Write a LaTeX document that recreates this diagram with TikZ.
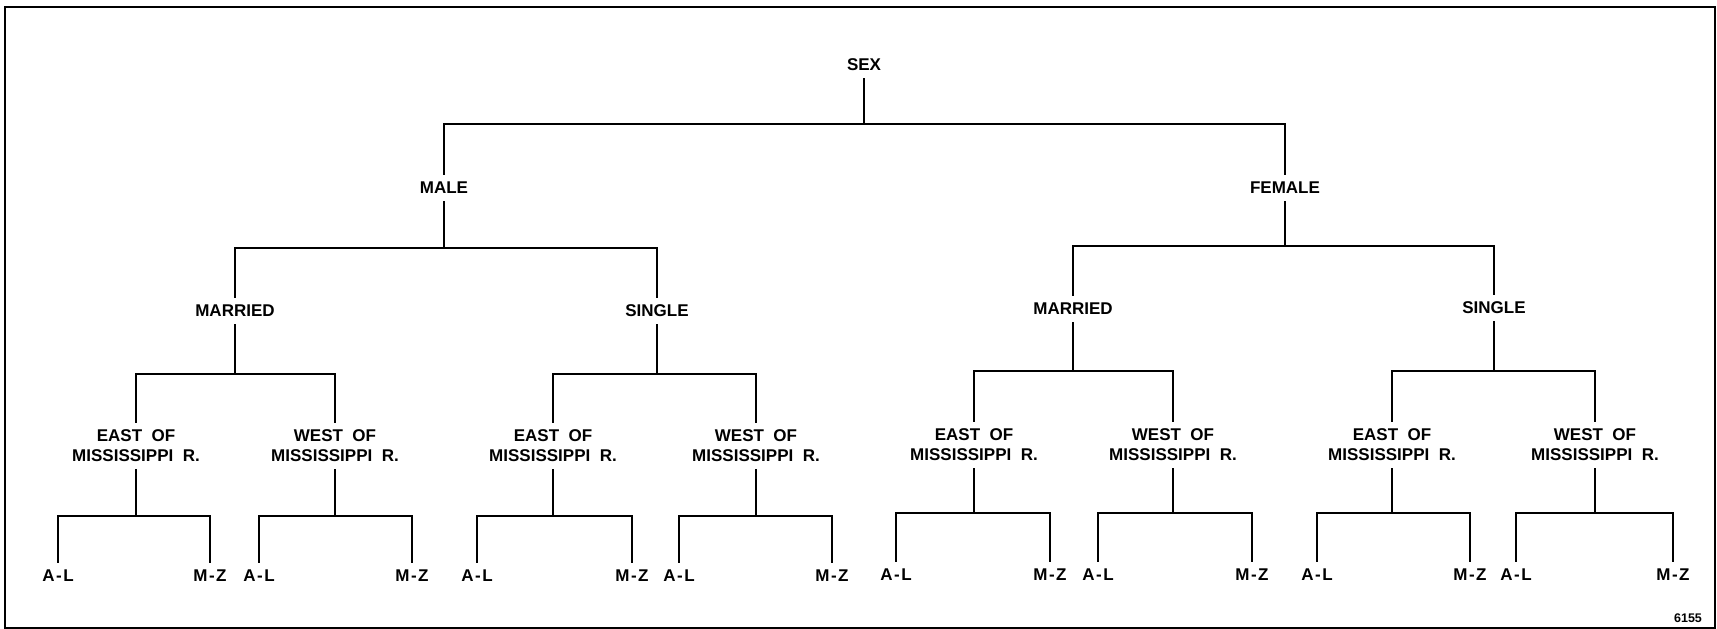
\documentclass[tikz,border=0pt]{standalone}
\usepackage{fontspec}
\setmainfont{Liberation Sans}
\newcommand{\treebranch}[4]{%
  \coordinate (barpt) at (0,#4);
  \draw[tree] (#1.south) -- (#1.south |- barpt)
              (#2.north) -- (#2.north |- barpt) -- (#3.north |- barpt) -- (#3.north);}
\begin{document}
\begin{tikzpicture}[x=1pt,y=-1pt,
  lbl/.style={font=\fontsize{17}{20}\selectfont\bfseries, inner xsep=2pt, inner ysep=8pt, align=center},
  tree/.style={line width=2pt, line cap=rect}]
\useasboundingbox (0,0) rectangle (1717,629);
\draw[line width=2pt] (5,7) rectangle (1715,628);

% level 0-2
\node[lbl] (sex) at (864,65) {SEX};
\node[lbl] (m) at (444,188) {MALE};
\node[lbl] (f) at (1285,188) {FEMALE};
\node[lbl] (mm) at (235,311) {MARRIED};
\node[lbl] (ms) at (657,311) {SINGLE};
\node[lbl] (fm) at (1073,309) {MARRIED};
\node[lbl] (fs) at (1494,308) {SINGLE};

% level 3
\node[lbl] (mme) at (136,446) {EAST\ \ OF\\MISSISSIPPI\ \ R.};
\node[lbl] (mmw) at (335,446) {WEST\ \ OF\\MISSISSIPPI\ \ R.};
\node[lbl] (mse) at (553,446) {EAST\ \ OF\\MISSISSIPPI\ \ R.};
\node[lbl] (msw) at (756,446) {WEST\ \ OF\\MISSISSIPPI\ \ R.};
\node[lbl] (fme) at (974,445) {EAST\ \ OF\\MISSISSIPPI\ \ R.};
\node[lbl] (fmw) at (1173,445) {WEST\ \ OF\\MISSISSIPPI\ \ R.};
\node[lbl] (fse) at (1392,445) {EAST\ \ OF\\MISSISSIPPI\ \ R.};
\node[lbl] (fsw) at (1595,445) {WEST\ \ OF\\MISSISSIPPI\ \ R.};

% leaves
\node[lbl] (l1)  at (58,576)   {A\kern1.5pt-\kern1.5pt L};
\node[lbl] (l2)  at (210,576)  {M\kern1.5pt-\kern1.5pt Z};
\node[lbl] (l3)  at (259,576)  {A\kern1.5pt-\kern1.5pt L};
\node[lbl] (l4)  at (412,576)  {M\kern1.5pt-\kern1.5pt Z};
\node[lbl] (l5)  at (477,576)  {A\kern1.5pt-\kern1.5pt L};
\node[lbl] (l6)  at (632,576)  {M\kern1.5pt-\kern1.5pt Z};
\node[lbl] (l7)  at (679,576)  {A\kern1.5pt-\kern1.5pt L};
\node[lbl] (l8)  at (832,576)  {M\kern1.5pt-\kern1.5pt Z};
\node[lbl] (l9)  at (896,575)  {A\kern1.5pt-\kern1.5pt L};
\node[lbl] (l10) at (1050,575) {M\kern1.5pt-\kern1.5pt Z};
\node[lbl] (l11) at (1098,575) {A\kern1.5pt-\kern1.5pt L};
\node[lbl] (l12) at (1252,575) {M\kern1.5pt-\kern1.5pt Z};
\node[lbl] (l13) at (1317,575) {A\kern1.5pt-\kern1.5pt L};
\node[lbl] (l14) at (1470,575) {M\kern1.5pt-\kern1.5pt Z};
\node[lbl] (l15) at (1516,575) {A\kern1.5pt-\kern1.5pt L};
\node[lbl] (l16) at (1673,575) {M\kern1.5pt-\kern1.5pt Z};

\node[font=\fontsize{12.5}{13}\selectfont\bfseries, inner sep=0pt] (num) at (1688,618) {6155};

% connectors
\treebranch{sex}{m}{f}{124}
\treebranch{m}{mm}{ms}{248}
\treebranch{f}{fm}{fs}{246}
\treebranch{mm}{mme}{mmw}{374}
\treebranch{ms}{mse}{msw}{374}
\treebranch{fm}{fme}{fmw}{371}
\treebranch{fs}{fse}{fsw}{371}
\treebranch{mme}{l1}{l2}{516}
\treebranch{mmw}{l3}{l4}{516}
\treebranch{mse}{l5}{l6}{516}
\treebranch{msw}{l7}{l8}{516}
\treebranch{fme}{l9}{l10}{513}
\treebranch{fmw}{l11}{l12}{513}
\treebranch{fse}{l13}{l14}{513}
\treebranch{fsw}{l15}{l16}{513}
\end{tikzpicture}
\end{document}
